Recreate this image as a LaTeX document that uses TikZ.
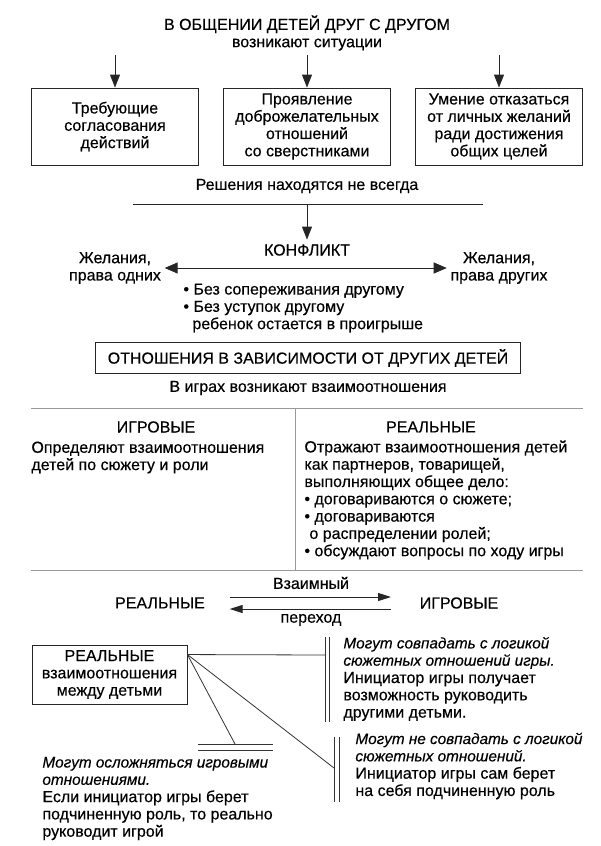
\documentclass[tikz,border=0pt]{standalone}
\usepackage{fontspec}
\setmainfont{Liberation Sans}[FakeBold=0.35]
\usetikzlibrary{arrows.meta,positioning}
\newcommand\itl{\fontsize{15.3}{17.3}\selectfont\itshape}

\begin{document}
\begin{tikzpicture}[
    x=1pt, y=-1pt,
    line width=0.9pt,
    every node/.style={font=\fontsize{16}{17.3}\selectfont, text=black},
    % стрелки
    arr/.style={-{Triangle[width=10pt,length=13pt]}, draw=black!85},
    twoarr/.style={{Triangle[width=11pt,length=13pt]}-{Triangle[width=11pt,length=13pt]}, draw=black!85},
    smallarr/.style={-{Triangle[width=8pt,length=13pt]}, draw=black!85},
    % рамки и тексты
    sitbox/.style={draw=black!85, minimum width=167pt, minimum height=77pt, align=center, inner sep=0pt},
    framed/.style={draw=black!85, align=center, inner sep=0pt},
    block/.style={align=left, anchor=west, inner sep=0pt},
    sepline/.style={draw=black!40, line width=0.8pt},
    thinline/.style={draw=black!80, line width=0.8pt}
]
\fill[white] (0,0) rectangle (600,846);
\useasboundingbox (0,0) rectangle (600,846);

% --- 1. Заголовок и ситуации ---
\node[align=center] (title) at (307,33) {В ОБЩЕНИИ ДЕТЕЙ ДРУГ С ДРУГОМ\\возникают ситуации};

\node[sitbox] (need)   at (115,126.5) {Требующие\\согласования\\действий};
\node[sitbox] (kind)   at (307,126.5) {Проявление\\доброжелательных\\отношений\\со сверстниками};
\node[sitbox] (refuse) at (499,126.5) {Умение отказаться\\от личных желаний\\ради достижения\\общих целей};

\foreach \b in {need,kind,refuse} {
    \coordinate (\b top) at ([yshift=33pt]\b.north);
    \draw[arr] (\b top) -- (\b.north);
}

% --- 2. Конфликт ---
\node (seldom) at (307,186) {Решения находятся не всегда};
\coordinate (ruleL) at (133,204);
\coordinate (ruleR) at (483,204);
\coordinate (ruleM) at (307,204);
\draw[draw=black!85] (ruleL) -- (ruleR);

\node (conflict) at (307,250) {КОНФЛИКТ};
\draw[arr, shorten >=1pt] (ruleM) -- (conflict.north);

\node[align=center] (wishL) at (115,268) {Желания,\\права одних};
\node[align=center] (wishR) at (499,268) {Желания,\\права других};
\draw[twoarr] (wishL) -- (wishR);

\node[block] (noyield) at (183,308) {• Без сопереживания другому\\• Без уступок другому\\\hspace*{9pt}ребенок остается в проигрыше};

\node[framed, minimum width=425pt, minimum height=31pt] (depend) at (308,358) {ОТНОШЕНИЯ В ЗАВИСИМОСТИ ОТ ДРУГИХ ДЕТЕЙ};

% --- 3. Игровые и реальные ---
\node (arise) at (308,388) {В играх возникают взаимоотношения};
\coordinate (sepTL) at (31,408);
\coordinate (sepTR) at (583,408);
\coordinate (sepBL) at (31,570);
\coordinate (sepBR) at (583,570);
\coordinate (sepMT) at (295,408);
\coordinate (sepMB) at (295,570);
\draw[sepline] (sepTL) -- (sepTR);
\draw[sepline] (sepBL) -- (sepBR);
\draw[sepline] (sepMT) -- (sepMB);

\node (gameH) at (156,427) {ИГРОВЫЕ};
\node (realH) at (431,427) {РЕАЛЬНЫЕ};
\node[block] (gameT) at (31,457.5) {Определяют взаимоотношения\\детей по сюжету и роли};
\node[block] (realT) at (304,500) {Отражают взаимоотношения детей\\как партнеров, товарищей,\\выполняющих общее дело:\\• договариваются о сюжете;\\• договариваются\\\hspace*{5pt}о распределении ролей;\\• обсуждают вопросы по ходу игры};

% --- 4. Взаимный переход ---
\node (mutual) at (311,583) {Взаимный};
\node (trans)  at (311,620) {переход};
\node (real2)  at (160,603) {РЕАЛЬНЫЕ};
\node (game2)  at (459,603) {ИГРОВЫЕ};
\draw[smallarr, shorten <=21pt, shorten >=25pt] ([yshift=6pt]real2.east) -- ([yshift=6pt]game2.west);
\draw[smallarr, shorten <=25pt, shorten >=21pt] ([yshift=-6pt]game2.west) -- ([yshift=-6pt]real2.east);

% --- 5. Реальные взаимоотношения между детьми ---
\node[framed, minimum width=155pt, minimum height=59pt] (realbox) at (109.5,674.5) {РЕАЛЬНЫЕ\\взаимоотношения\\между детьми};
\coordinate (fan) at ([yshift=-10pt]realbox.north east);

\coordinate (d1t) at (327,637);
\coordinate (d1b) at (327,722);
\coordinate (d1hit) at (325,655);
\coordinate (d2t) at (336.5,737);
\coordinate (d2b) at (336.5,802);
\coordinate (d2hit) at (334,768);
\coordinate (d3l) at (198,747);
\coordinate (d3r) at (273,747);
\coordinate (d3hit) at (235,744);
% двойные черты
\foreach \s in {-2,2} \draw[thinline] ([xshift=\s pt]d1t) -- ([xshift=\s pt]d1b);
\foreach \s in {-2.5,2.5} \draw[thinline] ([xshift=\s pt]d2t) -- ([xshift=\s pt]d2b);
\foreach \s in {-3,3} \draw[thinline] ([yshift=\s pt]d3l) -- ([yshift=\s pt]d3r);

\draw[thinline] (fan) -- (d1hit);
\draw[thinline] (fan) -- (d2hit);
\draw[thinline] (fan) -- (d3hit);

\node[block] (matchT) at (343,679) {{\itl Могут совпадать с логикой}\\{\itl сюжетных отношений игры.}\\Инициатор игры получает\\возможность руководить\\другими детьми.};
\node[block] (differT) at (355,766) {{\itl Могут не совпадать с логикой}\\{\itl сюжетных отношений.}\\Инициатор игры сам берет\\на себя подчиненную роль};
\node[block] (complexT) at (42,798.5) {{\itl Могут осложняться игровыми}\\{\itl отношениями.}\\Если инициатор игры берет\\подчиненную роль, то реально\\руководит игрой};

\end{tikzpicture}
\end{document}
